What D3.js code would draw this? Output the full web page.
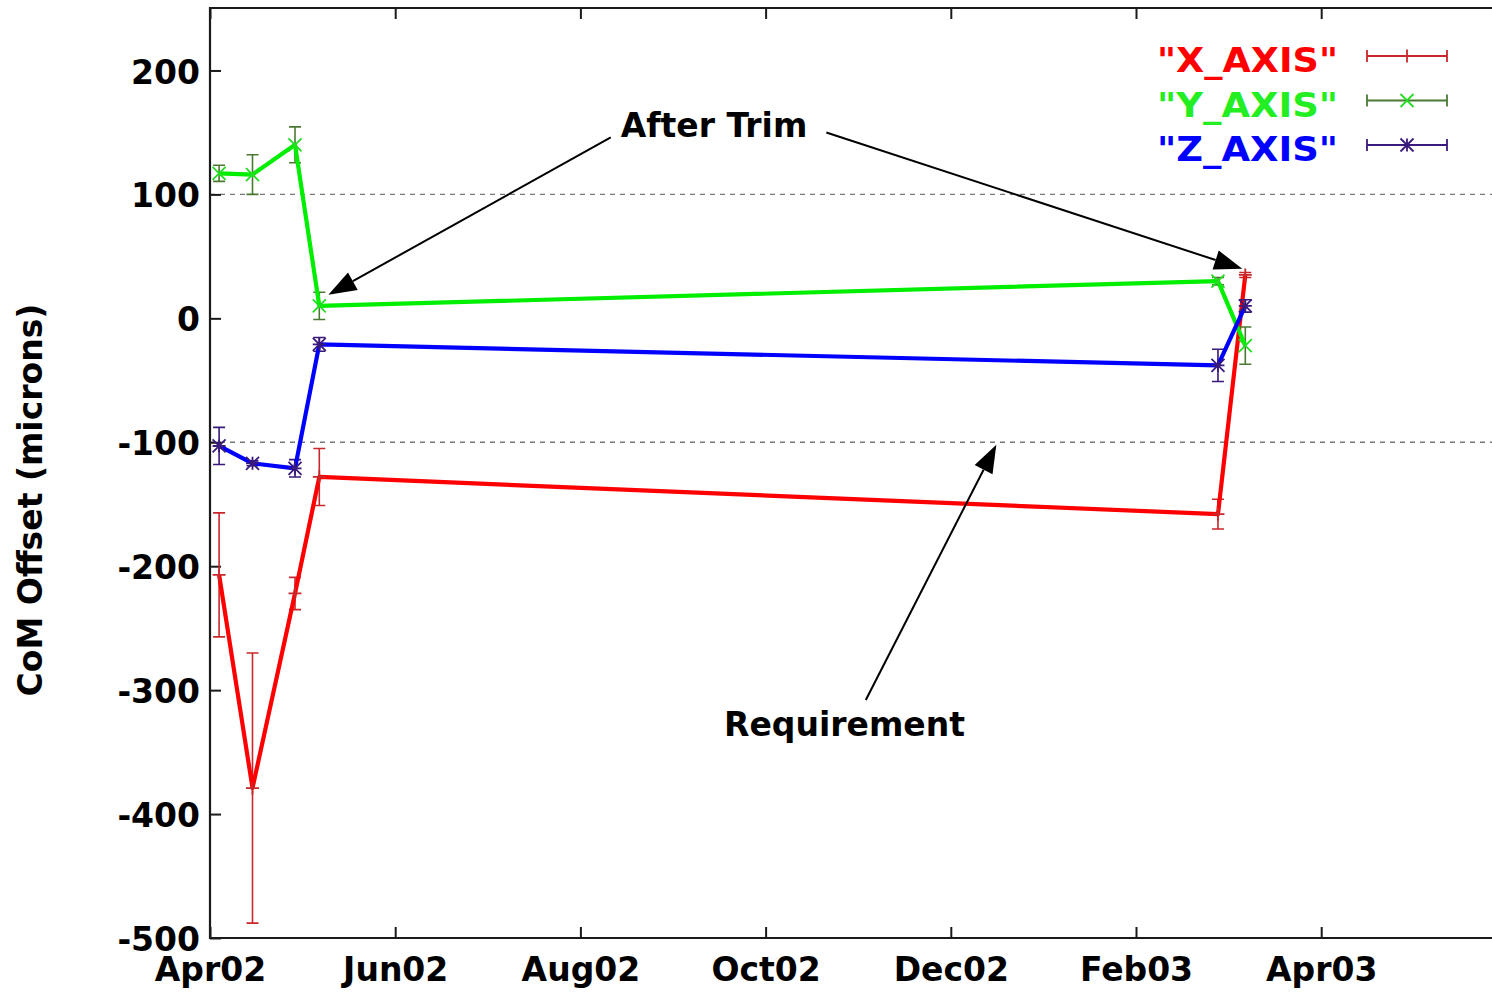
<!DOCTYPE html>
<html>
<head>
<meta charset="utf-8">
<script src="https://cdn.jsdelivr.net/npm/d3@7"></script>
<style>
  html, body { margin: 0; padding: 0; background: #fff; }
  svg { display: block; }
  text { font-family: "DejaVu Sans", Verdana, sans-serif; font-weight: bold; }
</style>
</head>
<body>
<svg id="chart" width="1492" height="992"></svg>
<script>
// ---- data ----
const dates = ["2002-04-04", "2002-04-15", "2002-04-29", "2002-05-07", "2003-02-27", "2003-03-08"];
const xAxisValues = [-207, -379, -222, -128, -158, 35];
const xAxisErrors = [50, 109, 13, 23, 12, 2];
const yAxisValues = [117, 116, 140, 10, 30, -22];
const yAxisErrors = [6.5, 16, 14.5, 11, 3, 15];
const zAxisValues = [-103, -117, -121, -21, -38, 10];
const zAxisErrors = [15, 2, 7, 5.5, 13, 5];
const seriesNames = ['"X_AXIS"', '"Y_AXIS"', '"Z_AXIS"'];
const xTickLabels = ["Apr02", "Jun02", "Aug02", "Oct02", "Dec02", "Feb03", "Apr03"];
const yTickValues = [-500, -400, -300, -200, -100, 0, 100, 200];
const requirementLevels = [100, -100];
// annotations in data units: [date, value]
const annotationTexts = ["After Trim", "Requirement"];
const afterTrimLabel = ["2002-09-14", 146];
const requirementLabel = ["2002-10-27", -337];
const arrows = [
  [["2002-08-11", 146], ["2002-05-10", 19]],
  [["2002-10-21", 150], ["2003-03-07", 40]],
  [["2002-11-03", -308], ["2002-12-16", -102]]
];

(function () {
// ---- layout ----
const svg = d3.select("#chart");
const pLeft = 210, pTop = 8, pBottom = 938, pRight = 1495;
const parse = d3.timeParse("%Y-%m-%d");
const start = parse("2002-04-01");
const dayPx = 185.2 / 61;
const endDate = d3.timeDay.offset(start, Math.round((pRight - pLeft) / dayPx));
const x = d3.scaleTime().domain([start, endDate]).range([pLeft, pLeft + d3.timeDay.count(start, endDate) * dayPx]);
const y = d3.scaleLinear().domain([-500, 250]).range([pBottom, pTop + 0.5]);

const tickDates = xTickLabels.map((_, i) => d3.timeDay.offset(start, 61 * i));

const axisColor = "#1a1a1a";
const fontSize = 33;

// requirement lines
svg.append("g").selectAll("line").data(requirementLevels).join("line")
  .attr("x1", pLeft).attr("x2", pRight)
  .attr("y1", d => y(d)).attr("y2", d => y(d))
  .attr("stroke", "#777").attr("stroke-width", 1.3).attr("stroke-dasharray", "5,5");

// frame
svg.append("path")
  .attr("d", `M${pRight},${pTop}H${pLeft}V${pBottom}H${pRight}`)
  .attr("fill", "none").attr("stroke", axisColor).attr("stroke-width", 2.2);

// y axis
const yAxis = d3.axisLeft(y).tickValues(yTickValues).tickSize(-11).tickPadding(10).tickFormat(d => String(d));
const gy = svg.append("g").attr("transform", `translate(${pLeft},0)`).call(yAxis);
gy.select(".domain").remove();
gy.selectAll(".tick line").attr("stroke", axisColor).attr("stroke-width", 2);
gy.selectAll(".tick text").attr("fill", "#000").style("font-size", fontSize + "px")
  .attr("font-family", null).attr("dy", "0.38em");

// x axis bottom
const xAxis = d3.axisBottom(x).tickValues(tickDates).tickSize(-11).tickPadding(22)
  .tickFormat((d, i) => xTickLabels[i]);
const gx = svg.append("g").attr("transform", `translate(0,${pBottom})`).call(xAxis);
gx.select(".domain").remove();
gx.selectAll(".tick line").attr("stroke", axisColor).attr("stroke-width", 2);
gx.selectAll(".tick text").attr("fill", "#000").style("font-size", fontSize + "px")
  .attr("font-family", null).attr("dy", "0.64em");

// x axis top ticks
const gxt = svg.append("g").attr("transform", `translate(0,${pTop})`)
  .call(d3.axisTop(x).tickValues(tickDates).tickSize(-11).tickFormat(""));
gxt.select(".domain").remove();
gxt.selectAll(".tick line").attr("stroke", axisColor).attr("stroke-width", 2);

// ---- series ----
const series = [
  { name: seriesNames[0], vals: xAxisValues, errs: xAxisErrors, line: "#ff0000", text: "#ff0000", dark: "#c8282c", pt: "#c8282c", sym: "plus" },
  { name: seriesNames[1], vals: yAxisValues, errs: yAxisErrors, line: "#00ee00", text: "#22ee22", dark: "#4a7a32", pt: "#22dd22", sym: "cross" },
  { name: seriesNames[2], vals: zAxisValues, errs: zAxisErrors, line: "#0000ff", text: "#0000ff", dark: "#3a1a7a", pt: "#3a1a7a", sym: "star" }
];
const S = 6.5;
const symPath = {
  plus: `M${-S},0H${S}M0,${-S}V${S}`,
  cross: `M${-S},${-S}L${S},${S}M${-S},${S}L${S},${-S}`,
  star: `M${-S},0H${S}M0,${-S}V${S}M${-S},${-S}L${S},${S}M${-S},${S}L${S},${-S}`
};
const line = d3.line().x(d => x(d.date)).y(d => y(d.v));

series.forEach(s => {
  const pts = dates.map((d, i) => ({ date: parse(d), v: s.vals[i], e: s.errs[i] }));
  const g = svg.append("g");
  const eb = g.selectAll("g.eb").data(pts).join("g").attr("class", "eb");
  eb.append("path")
    .attr("d", d => {
      const cx = x(d.date), y1 = y(d.v - d.e), y2 = y(d.v + d.e);
      return `M${cx},${y1}V${y2}M${cx - 6},${y1}H${cx + 6}M${cx - 6},${y2}H${cx + 6}`;
    })
    .attr("fill", "none").attr("stroke", s.dark).attr("stroke-width", 1.6);
  g.append("path").datum(pts).attr("d", line)
    .attr("fill", "none").attr("stroke", s.line).attr("stroke-width", 4.2).attr("stroke-linejoin", "round");
  g.selectAll("path.pt").data(pts).join("path").attr("class", "pt")
    .attr("transform", d => `translate(${x(d.date)},${y(d.v)})`)
    .attr("d", symPath[s.sym]).attr("fill", "none").attr("stroke", s.pt).attr("stroke-width", 1.8);
});

// ---- legend ----
const legend = svg.append("g");
series.forEach((s, i) => {
  const cy = 56 + i * 44.5;
  legend.append("text").attr("x", 1338).attr("y", cy + 16)
    .attr("text-anchor", "end").attr("fill", s.text)
    .attr("textLength", 181).attr("lengthAdjust", "spacingAndGlyphs")
    .style("font-size", "34px").text(s.name);
  legend.append("path")
    .attr("d", `M1367,${cy}H1447M1367,${cy - 6}V${cy + 6}M1447,${cy - 6}V${cy + 6}`)
    .attr("stroke", s.dark).attr("stroke-width", 1.8).attr("fill", "none");
  legend.append("path").attr("transform", `translate(1407,${cy})`)
    .attr("d", symPath[s.sym]).attr("fill", "none").attr("stroke", s.pt).attr("stroke-width", 1.8);
});

// ---- annotations ----
function P(a) { return [x(parse(a[0])), y(a[1])]; }
arrows.forEach(([a, b]) => {
  const [x1, y1] = P(a), [x2, y2] = P(b);
  const ang = Math.atan2(y2 - y1, x2 - x1);
  const L = 28, W = 10;
  const bx = x2 - L * Math.cos(ang), by = y2 - L * Math.sin(ang);
  svg.append("line").attr("x1", x1).attr("y1", y1).attr("x2", bx).attr("y2", by)
    .attr("stroke", "#000").attr("stroke-width", 2);
  const px = -Math.sin(ang) * W, py = Math.cos(ang) * W;
  svg.append("path")
    .attr("d", `M${x2},${y2}L${bx + px},${by + py}L${bx - px},${by - py}Z`)
    .attr("fill", "#000");
});
[afterTrimLabel, requirementLabel].forEach((a, i) => {
  const [tx, ty] = P(a);
  svg.append("text").attr("x", tx).attr("y", ty).attr("text-anchor", "middle")
    .attr("fill", "#000").style("font-size", fontSize + "px").text(annotationTexts[i]);
});

// y label
svg.append("text")
  .attr("transform", `translate(42,500) rotate(-90)`)
  .attr("text-anchor", "middle").attr("fill", "#000")
  .style("font-size", fontSize + "px").text("CoM Offset (microns)");
})();
</script>
</body>
</html>
